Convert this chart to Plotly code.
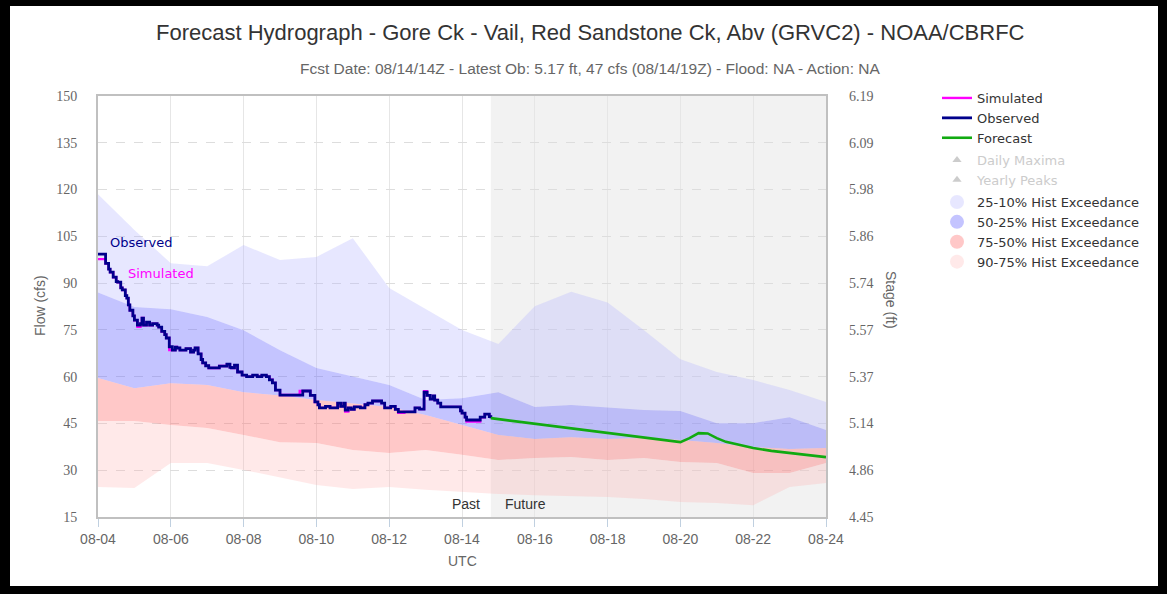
import plotly.graph_objects as go
import pandas as pd

# ---------------- data ----------------
start = pd.Timestamp("2014-08-04 00:00")
band_dates = pd.date_range("2014-08-04", "2014-08-24", freq="D")

# historical exceedance band edges (cfs), daily
p10 = [118.5, 107, 96.4, 95.4, 102.2, 97.4, 98.4, 104.4, 88.4, 81.7, 75, 70.5,
       82.6, 87.2, 83.8, 74.9, 65.6, 61.5, 58.9, 55.7, 51.9]
p25 = [87, 82.3, 81.6, 79.1, 74.9, 68.5, 62.8, 60, 57.3, 52.5, 53.1, 55,
       50.3, 50.9, 50, 49.3, 49, 45.1, 45.1, 47, 42.9]
p50 = [59.6, 56.3, 57.9, 57.3, 55, 54, 52.5, 51.5, 50.3, 47.7, 44.5, 41.3,
       40, 40.6, 40, 40.3, 39.7, 38.7, 37.4, 36.8, 37.1]
p75 = [45.8, 45.8, 44.5, 43.5, 41.3, 39, 38.7, 36.5, 35.5, 36.5, 35, 33.3,
       33.9, 34.2, 33.3, 33.9, 32.6, 32.3, 29.1, 29.1, 32.3]
p90 = [24.6, 24.3, 32.3, 32.3, 30.1, 27.8, 25.3, 24, 24.6, 23.7, 23, 22.4,
       22, 21.7, 21.4, 20.8, 19.8, 19.5, 18.8, 24.6, 25.9]

# observed / simulated flow (hours after 08-04 00Z, cfs)
obs_hours = [0, 3, 5, 7, 8, 10, 12, 13, 15, 16, 18, 19, 20, 21, 23, 24, 26, 28, 29, 30,
             32, 34, 36, 39, 40, 42, 44, 45, 47, 49, 51, 52, 54, 56, 58, 61, 63, 64, 66, 68,
             69, 71, 73, 75, 78, 80, 83, 85, 87, 88, 90, 92, 95, 98, 102, 105, 108, 111, 113, 115,
             117, 120, 127, 133, 135, 138, 140, 143, 145, 146, 150, 153, 155, 158, 160, 162, 163, 165, 167, 169,
             173, 176, 178, 181, 185, 187, 189, 193, 196, 198, 202, 207, 209, 212, 215, 217, 219, 221, 222, 224,
             226, 232, 237, 239, 240, 242, 243, 250, 252, 255, 257, 258, 259]
obs_cfs = [99.3, 99.3, 96.3, 94.5, 93.5, 91.9, 90.5, 90.3, 88.5, 87.8, 86, 85.2, 83, 81.3, 79.5, 78.1, 76.5, 77, 78.8, 76.5,
           77.5, 76.5, 77, 76.5, 75.9, 74.5, 73.5, 72.4, 69.6, 68.5, 69.5, 69.2, 68.5, 68.5, 69, 67.9, 68.5, 69.2, 67.3, 65.5,
           64.4, 63.5, 62.8, 62.8, 62.8, 63.4, 63.4, 64, 63, 62.8, 63.7, 61.5, 60.5, 60, 60.5, 60, 60.5, 60, 59, 58,
           55.7, 54.1, 54.1, 54.1, 55.4, 55.4, 54, 51.9, 51, 50, 50.5, 50, 50, 51.5, 50.5, 51.5, 49.3, 50, 49.5, 50.3,
           50, 51, 51.5, 52.2, 52.2, 51.5, 50, 50.5, 49.5, 48.7, 48.7, 48.7, 50, 49.6, 55, 54, 52.8, 53.8, 52.5, 51.5,
           50.3, 50.3, 50.3, 49, 48.3, 47, 46.1, 46.1, 47, 48, 48, 47.2, 46.7]
sim_cfs = [97.7, 97.7, 96.3, 94.5, 93.5, 91.9, 90.5, 90.3, 88.5, 87.8, 86, 85.2, 83, 81.3, 79.5, 78.1, 76.0, 77, 78.8, 76.5,
           77.5, 76.5, 77, 76.5, 75.9, 74.5, 73.5, 72.4, 68.5, 68.5, 69.5, 69.2, 68.5, 68.5, 69, 67.9, 68.5, 69.2, 67.3, 65.5,
           64.4, 63.5, 62.8, 62.8, 62.8, 63.4, 63.4, 64, 63, 62.8, 63.7, 61.5, 60.5, 60, 60.5, 60, 60.5, 60, 59, 58,
           55.7, 54.1, 54.1, 55.4, 55.4, 55.4, 54, 51.9, 51, 50, 50.5, 50, 50, 51.5, 50.5, 51.5, 48.8, 50, 49.5, 50.3,
           50, 51, 51.5, 52.2, 52.2, 51.5, 50, 50.5, 49.5, 48.4, 48.7, 48.7, 50, 49.6, 55.3, 54, 52.8, 53.8, 52.5, 51.5,
           50.3, 50.3, 50.3, 49, 48.3, 47, 45.6, 45.6, 47, 48, 48, 47.2, 46.7]

# forecast flow (hours, cfs)
fc_hours = [259, 264, 288, 312, 336, 360, 384, 390, 396, 402, 408, 414, 420, 432, 444, 456, 468, 480]
fc_cfs = [46.7, 46.4, 44.9, 43.4, 41.9, 40.5, 39.0, 40.3, 41.9, 41.8, 40.3, 39.1, 38.4, 37.1, 36.2, 35.5, 34.8, 34.2]

flow_ticks = [15, 30, 45, 60, 75, 90, 105, 120, 135, 150]
stage_labels = ["4.45", "4.86", "5.14", "5.37", "5.57", "5.74", "5.86", "5.98", "6.09", "6.19"]

obs_x = [start + pd.Timedelta(hours=h) for h in obs_hours]
fc_x = [start + pd.Timedelta(hours=h) for h in fc_hours]
split_time = obs_x[-1]

# ---------------- styling ----------------
C_B1 = "rgba(180,180,255,0.32)"
C_B2 = "rgba(100,100,255,0.38)"
C_B3 = "rgba(255,110,110,0.38)"
C_B4 = "rgba(255,170,170,0.26)"
SANS = "Liberation Sans, Arial, sans-serif"
LEG = "DejaVu Sans, Verdana, sans-serif"

W, H = 1167, 594
PL, PR, PT, PB = 98, 826, 96, 517


def pxx(x):
    return (x - PL) / (PR - PL)


def pxy(y):
    return (PB - y) / (PB - PT)


fig = go.Figure()

bands = [(p10, p25, C_B1), (p25, p50, C_B2), (p50, p75, C_B3), (p75, p90, C_B4)]
for up, lo, col in bands:
    fig.add_trace(go.Scatter(x=band_dates, y=up, mode="lines", line=dict(width=0),
                             showlegend=False, hoverinfo="skip"))
    fig.add_trace(go.Scatter(x=band_dates, y=lo, mode="lines", line=dict(width=0),
                             fill="tonexty", fillcolor=col, showlegend=False, hoverinfo="skip"))

# lines
fig.add_trace(go.Scatter(x=obs_x, y=sim_cfs, mode="lines", name="Simulated",
                         line=dict(color="#ff00ff", width=2.4, shape="hv"),
                         legend="legend", legendgroup="s"))
fig.add_trace(go.Scatter(x=obs_x, y=obs_cfs, mode="lines", name="Observed",
                         line=dict(color="#00008b", width=2.8, shape="hv"),
                         legend="legend", legendgroup="o"))
fig.add_trace(go.Scatter(x=fc_x, y=fc_cfs, mode="lines", name="Forecast",
                         line=dict(color="#11aa11", width=2.6),
                         legend="legend", legendgroup="f"))

# greyed legend entries
for nm in ["Daily Maxima", "Yearly Peaks"]:
    fig.add_trace(go.Scatter(x=[None], y=[None], mode="markers", name=nm,
                             marker=dict(symbol="triangle-up", size=8, color="#cccccc"),
                             legend="legend2", legendgroup=nm))

for nm, col in [("25-10% Hist Exceedance", C_B1), ("50-25% Hist Exceedance", C_B2),
                ("75-50% Hist Exceedance", C_B3), ("90-75% Hist Exceedance", C_B4)]:
    fig.add_trace(go.Scatter(x=[None], y=[None], mode="markers", name=nm,
                             marker=dict(symbol="circle", size=14, color=col),
                             legend="legend3", legendgroup=nm))

# dummy for right axis
fig.add_trace(go.Scatter(x=[start], y=[None], yaxis="y2", showlegend=False, hoverinfo="skip"))

legend_common = dict(bgcolor="rgba(0,0,0,0)", borderwidth=0, tracegroupgap=0,
                     xanchor="left", yanchor="top", itemwidth=30)
fig.update_layout(
    width=W, height=H,
    margin=dict(l=PL, r=W - PR, t=PT, b=H - PB),
    paper_bgcolor="white", plot_bgcolor="white",
    showlegend=True,
    legend=dict(x=pxx(937), y=pxy(83), font=dict(family=LEG, size=13, color="#333333"), **legend_common),
    legend2=dict(x=pxx(937), y=pxy(145), font=dict(family=LEG, size=13, color="#cccccc"), **legend_common),
    legend3=dict(x=pxx(937), y=pxy(187), font=dict(family=LEG, size=13, color="#333333"), **legend_common),
    xaxis=dict(type="date", range=[band_dates[0], band_dates[-1]], dtick=2 * 86400000,
               tick0=band_dates[0], tickformat="%m-%d",
               showgrid=True, gridcolor="#e6e6e6", gridwidth=1,
               showline=True, linecolor="#c0c0c0", linewidth=2, mirror=True,
               ticks="outside", ticklen=8, tickcolor="#c0d0e0",
               tickfont=dict(family=SANS, size=14, color="#666666")),
    yaxis=dict(range=[15, 150], tickvals=flow_ticks,
               showgrid=True, gridcolor="#dddddd", griddash="dash", gridwidth=1,
               showline=True, linecolor="#c0c0c0", linewidth=2, mirror=True,
               zeroline=False, ticks="", ticklabelstandoff=16,
               tickfont=dict(family="Liberation Serif, serif", size=14, color="#666666")),
    yaxis2=dict(range=[15, 150], overlaying="y", side="right", tickvals=flow_ticks,
                ticktext=stage_labels, showgrid=False, zeroline=False, ticks="",
                ticklabelstandoff=22,
                tickfont=dict(family="Liberation Serif, serif", size=14, color="#666666")),
)

# future shading
fig.add_shape(type="rect", xref="x", yref="paper", x0=split_time, x1=band_dates[-1],
              y0=0, y1=1, fillcolor="#f2f2f2", line=dict(width=0), layer="below")

# black frame
for x0, x1, y0, y1 in [(0, 10, 0, H), (W - 9, W, 0, H), (0, W, 0, 6), (0, W, H - 8, H)]:
    fig.add_shape(type="rect", xref="paper", yref="paper",
                  x0=pxx(x0), x1=pxx(x1), y0=pxy(y1), y1=pxy(y0),
                  fillcolor="black", line=dict(width=0), layer="above")

ann = [
    dict(text="Forecast Hydrograph - Gore Ck - Vail, Red Sandstone Ck, Abv (GRVC2) - NOAA/CBRFC",
         x=pxx(590), y=pxy(33), font=dict(family=SANS, size=22, color="#333333")),
    dict(text="Fcst Date: 08/14/14Z - Latest Ob: 5.17 ft, 47 cfs (08/14/19Z) - Flood: NA - Action: NA",
         x=pxx(590), y=pxy(68), font=dict(family=SANS, size=15.5, color="#666666")),
    dict(text="Flow (cfs)", x=pxx(40), y=pxy(306), textangle=-90,
         font=dict(family=SANS, size=14, color="#666666")),
    dict(text="Stage (ft)", x=pxx(891), y=pxy(300), textangle=90,
         font=dict(family=SANS, size=14, color="#666666")),
    dict(text="UTC", x=pxx(462), y=pxy(561), font=dict(family=SANS, size=14, color="#666666")),
    dict(text="Observed", x=pxx(108), y=pxy(242), xanchor="left",
         font=dict(family=LEG, size=13, color="#00008b")),
    dict(text="Simulated", x=pxx(126), y=pxy(273), xanchor="left",
         font=dict(family=LEG, size=13, color="#ff00ff")),
    dict(text="Past", x=pxx(482), y=pxy(504), xanchor="right",
         font=dict(family=SANS, size=14, color="#333333")),
    dict(text="Future", x=pxx(503), y=pxy(504), xanchor="left",
         font=dict(family=SANS, size=14, color="#333333")),
]
for a in ann:
    a.setdefault("xanchor", "center")
    fig.add_annotation(xref="paper", yref="paper", showarrow=False, yanchor="middle", **a)

fig.write_html("out.html", config={"displayModeBar": False},
               post_script="document.body.style.margin='0';document.body.style.padding='0';"
                           "document.body.style.overflow='hidden';")
